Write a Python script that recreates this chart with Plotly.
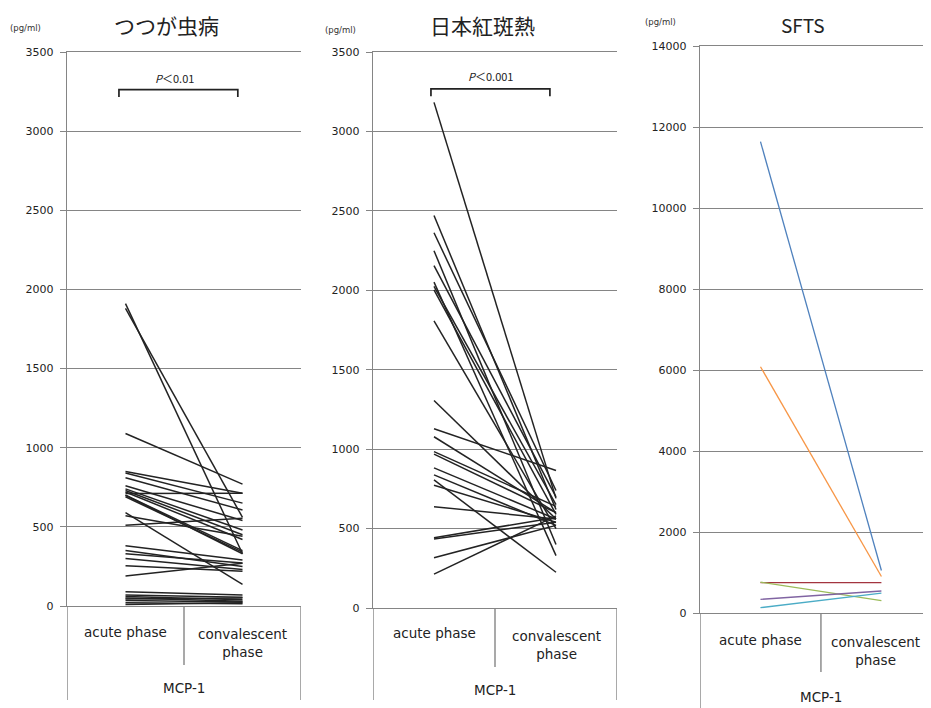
import plotly.graph_objects as go

# ---------------- data ----------------
phases = ["acute phase", "convalescent phase"]
group_label = "MCP-1"
titles = ["つつが虫病", "日本紅斑熱", "SFTS"]
unit = "(pg/ml)"
p_texts = ["<i>P</i>＜0.01", "<i>P</i>＜0.001"]

tsutsu_acute = [1910, 1880, 1090, 850, 840, 810, 760, 740, 730, 720, 710, 700, 700, 690,
                590, 570, 510, 380, 350, 330, 300, 255, 190, 90, 70, 60, 50, 45, 35, 20, 10]
tsutsu_conv = [330, 560, 770, 712, 650, 607, 540, 480, 450, 420, 712, 350, 330, 340,
               136, 440, 555, 290, 250, 272, 230, 220, 270, 70, 55, 40, 30, 50, 25, 15, 20]

jsf_acute = [3183, 2471, 2362, 2249, 2155, 2051, 2025, 2003, 1807, 1306, 1128, 1078, 984,
             969, 882, 838, 806, 773, 638, 442, 435, 316, 213]
jsf_conv = [690, 620, 740, 400, 700, 330, 650, 590, 500, 560, 866, 600, 640,
            600, 560, 520, 225, 540, 560, 570, 540, 520, 580]

sfts_acute = [11640, 6080, 750, 760, 337, 131]
sfts_conv = [1050, 900, 750, 304, 543, 490]
sfts_colors = ["#4F81BD", "#F79646", "#A3343F", "#9BBB59", "#8064A2", "#4BACC6"]

# page body has an 8px margin; the figure fills the rest of the 931x708 window
OFF = 8
FW, FH = 931 - OFF, 708 - OFF
GRID = "#858585"
LINE_DARK = "#232323"


def px(X):
    return (X - OFF) / FW


def py(Y):
    return 1 - (Y - OFF) / FH


fig = go.Figure()


def add_pairs(acute, conv, xa, ya, colors=None, width=1.5):
    for i, (a, c) in enumerate(zip(acute, conv)):
        col = colors[i] if colors else LINE_DARK
        fig.add_trace(go.Scatter(x=phases, y=[a, c], mode="lines",
                                 line=dict(color=col, width=width),
                                 xaxis=xa, yaxis=ya, showlegend=False,
                                 hoverinfo="skip"))


add_pairs(tsutsu_acute, tsutsu_conv, "x", "y")
add_pairs(jsf_acute, jsf_conv, "x2", "y2")
add_pairs(sfts_acute, sfts_conv, "x3", "y3", colors=sfts_colors, width=1.3)

# panel geometry in reference pixels
panels = [
    dict(l=67, r=301, y0=606, yt=52, ymax=3500, dtick=500, xr=[-0.5, 1.5]),
    dict(l=373, r=617, y0=608, yt=52, ymax=3500, dtick=500, xr=[-0.5, 1.5]),
    dict(l=700, r=931, y0=613, yt=46, ymax=14000, dtick=2000, xr=[-0.5, 1.41]),
]

layout = dict(width=FW, height=FH,
              margin=dict(l=0, r=0, t=0, b=0, autoexpand=False),
              paper_bgcolor="white", plot_bgcolor="white", showlegend=False,
              font=dict(family="DejaVu Sans, sans-serif", color="#222"))
for i, p in enumerate(panels):
    sfx = "" if i == 0 else str(i + 1)
    layout["xaxis" + sfx] = dict(domain=[px(p["l"]), min(1.0, px(p["r"]))], anchor="y" + sfx,
                                 type="category", range=p["xr"], showgrid=False,
                                 showline=True, mirror=True, linecolor=GRID, linewidth=1.4,
                                 ticks="", showticklabels=False, zeroline=False,
                                 automargin=False, fixedrange=True)
    layout["yaxis" + sfx] = dict(domain=[py(p["y0"]), py(p["yt"])], anchor="x" + sfx,
                                 range=[0, p["ymax"]], dtick=p["dtick"], tickformat="d",
                                 showgrid=True, gridcolor=GRID, gridwidth=1.4,
                                 showline=True, linecolor=GRID, linewidth=1.4,
                                 ticks="outside", ticklen=6, tickcolor=GRID,
                                 ticklabelstandoff=4, zeroline=False, automargin=False,
                                 tickfont=dict(family="DejaVu Sans", size=11, color="#222"),
                                 fixedrange=True)
fig.update_layout(**layout)

shapes = []
annotations = []
conv_label = phases[1].replace(" ", "<br>")
cat_font = dict(family="DejaVu Sans", size=13.5, color="#222")
for i, p in enumerate(panels):
    sfx = "" if i == 0 else str(i + 1)
    xref = "x" + sfx
    ydref = "y" + sfx + " domain"
    hpx = p["y0"] - p["yt"]
    sep_bottom = {0: 665, 1: 667, 2: 672}[i]
    bottom = {0: 700, 1: 700, 2: 708}[i]
    ln = dict(color=GRID, width=1.4)
    shapes.append(dict(type="line", xref=xref, yref=ydref, x0=-0.5, x1=-0.5,
                       y0=0, y1=-(bottom - p["y0"]) / hpx, line=ln))
    shapes.append(dict(type="line", xref=xref, yref=ydref, x0=0.5, x1=0.5,
                       y0=0, y1=-(sep_bottom - p["y0"]) / hpx, line=ln))
    if i < 2:
        shapes.append(dict(type="line", xref=xref, yref=ydref, x0=1.5, x1=1.5,
                           y0=0, y1=-(bottom - p["y0"]) / hpx, line=ln))
    lab_y = {0: 632, 1: 633, 2: 640}[i]
    conv_y = {0: 643, 1: 645, 2: 651}[i]
    grp_y = {0: 688, 1: 690, 2: 697}[i]
    conv_x = 1 if i < 2 else 0.95
    annotations.append(dict(text=phases[0], xref=xref, yref=ydref, x=0,
                            y=-(lab_y - p["y0"]) / hpx, showarrow=False,
                            xanchor="center", yanchor="middle", font=cat_font))
    annotations.append(dict(text=conv_label, xref=xref, yref=ydref, x=conv_x,
                            y=-(conv_y - p["y0"]) / hpx, showarrow=False,
                            xanchor="center", yanchor="middle", font=cat_font))
    annotations.append(dict(text=group_label, xref=xref, yref=ydref, x=0.5,
                            y=-(grp_y - p["y0"]) / hpx, showarrow=False,
                            xanchor="center", yanchor="middle", font=cat_font))

# significance brackets
brackets = [("x", "y", -0.056, 0.96, 3215, 3262, 0.42, 3335),
            ("x2", "y2", -0.025, 0.95, 3222, 3268, 0.46, 3350)]
for (xr, yr, xa, xb, ylo, yhi, tx, ty), txt in zip(brackets, p_texts):
    shapes.append(dict(type="path", xref=xr, yref=yr,
                       path=f"M {xa},{ylo} L {xa},{yhi} L {xb},{yhi} L {xb},{ylo}",
                       line=dict(color="#222", width=1.7)))
    annotations.append(dict(text=txt, xref=xr, yref=yr, x=tx, y=ty, showarrow=False,
                            xanchor="center", yanchor="middle",
                            font=dict(family="Noto Sans CJK JP", size=11, color="#222")))

# titles and unit labels
title_pos = [(166, 25, 21), (482, 25, 21), (803, 24, 19)]
for t, (x, y, s) in zip(titles, title_pos):
    annotations.append(dict(text=t, xref="paper", yref="paper", x=px(x), y=py(y),
                            showarrow=False, xanchor="center", yanchor="middle",
                            font=dict(family="Noto Sans CJK JP", size=s, color="#222")))
for (x, y) in [(25, 28), (340, 30), (660, 22)]:
    annotations.append(dict(text=unit, xref="paper", yref="paper", x=px(x), y=py(y),
                            showarrow=False, xanchor="center", yanchor="middle",
                            font=dict(family="DejaVu Sans", size=8.5, color="#333")))

fig.update_layout(shapes=shapes, annotations=annotations)
fig.write_html("out.html")
